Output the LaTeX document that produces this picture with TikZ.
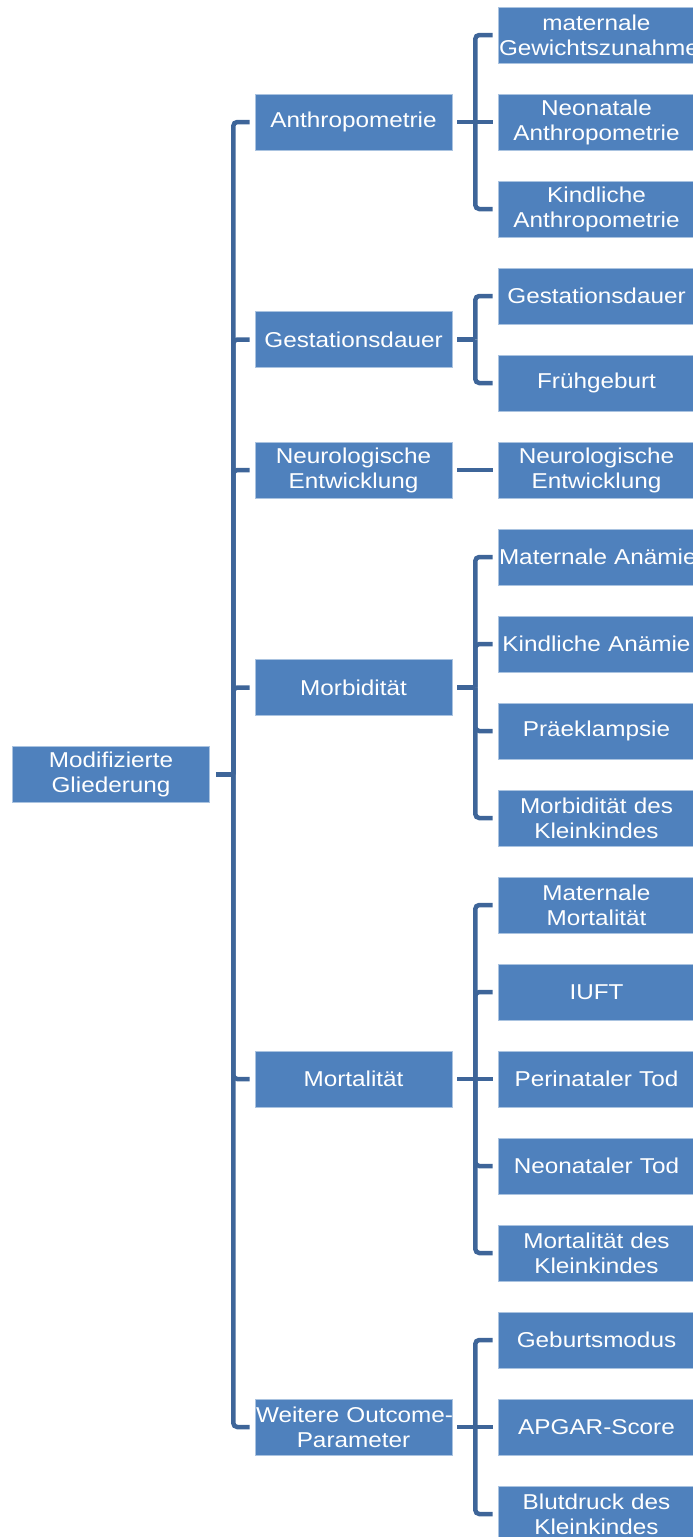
\documentclass[tikz,border=0pt]{standalone}
\usepackage{fontspec}
\setmainfont{Liberation Sans}[FakeStretch=1.13]
\definecolor{boxblue}{RGB}{79,129,189}
\definecolor{lineblue}{RGB}{62,101,153}
\definecolor{boxedge}{RGB}{170,195,224}
\begin{document}
\begin{tikzpicture}[x=1pt,y=-1pt,
  box/.style={rectangle, fill=boxblue, draw=boxedge, line width=0.6pt,
    minimum width=197pt, minimum height=56pt, text width=195pt, inner sep=1pt,
    align=center, text=white, font=\fontsize{21.5}{25}\selectfont},
  conn/.style={draw=lineblue, line width=4.5pt, rounded corners=4pt}]
\useasboundingbox (0,0) rectangle (693,1537);
\clip (0,0) rectangle (693,1537);
\hbadness=10000 \hfuzz=100pt
% root
\node[box, minimum width=196pt] (root) at (111,774.5) {Modifizierte\\Gliederung};
% level 1
\node[box] (a1) at (353.5,122) {Anthropometrie};
\node[box] (a2) at (353.5,339.5) {Gestationsdauer};
\node[box] (a3) at (353.5,470) {Neurologische\\Entwicklung};
\node[box] (a4) at (353.5,687.5) {Morbidität};
\node[box] (a5) at (353.5,1079) {Mortalität};
\node[box] (a6) at (353.5,1427) {\mbox{Weitere Outcome-}\\Parameter};
% level 2
\node[box] (b1) at (596.5,35) {maternale\\\mbox{Gewichtszunahme}};
\node[box] (b2) at (596.5,122) {Neonatale\\Anthropometrie};
\node[box] (b3) at (596.5,209) {Kindliche\\Anthropometrie};
\node[box] (c1) at (596.5,296) {Gestationsdauer};
\node[box] (c2) at (596.5,383) {Frühgeburt};
\node[box] (d1) at (596.5,470) {Neurologische\\Entwicklung};
\node[box] (e1) at (596.5,557) {\mbox{Maternale Anämie}};
\node[box] (e2) at (596.5,644) {\mbox{Kindliche Anämie}};
\node[box] (e3) at (596.5,731) {Präeklampsie};
\node[box] (e4) at (596.5,818) {Morbidität des\\Kleinkindes};
\node[box] (f1) at (596.5,905) {Maternale\\Mortalität};
\node[box] (f2) at (596.5,992) {IUFT};
\node[box] (f3) at (596.5,1079) {\mbox{Perinataler Tod}};
\node[box] (f4) at (596.5,1166) {\mbox{Neonataler Tod}};
\node[box] (f5) at (596.5,1253) {Mortalität des\\Kleinkindes};
\node[box] (g1) at (596.5,1340) {Geburtsmodus};
\node[box] (g2) at (596.5,1427) {APGAR-Score};
\node[box] (g3) at (596.5,1514) {Blutdruck des\\Kleinkindes};
% root connectors
\draw[conn] ([xshift=6pt]root.east) -- ([xshift=23.5pt]root.east);
\foreach \c in {a1,a2,a3,a4,a5,a6}
  \draw[conn] ([xshift=23.5pt]root.east) |- ([xshift=-5pt]\c.west);
% level-1 connectors (off-centre children)
\foreach \p/\cl in {a1/{b1,b3}, a2/{c1,c2}, a4/{e1,e2,e3,e4}, a5/{f1,f2,f4,f5}, a6/{g1,g3}} {
  \foreach \c in \cl
    \draw[conn] ([xshift=23pt]\p.east) |- ([xshift=-5pt]\c.west);
}
% straight stubs (parent stub and centred children)
\foreach \p in {a2,a4}
  \draw[conn] ([xshift=5pt]\p.east) -- ([xshift=23pt]\p.east);
\foreach \p/\c in {a1/b2, a3/d1, a5/f3, a6/g2}
  \draw[conn] ([xshift=5pt]\p.east) -- ([xshift=-5pt]\c.west);
\end{tikzpicture}
\end{document}
